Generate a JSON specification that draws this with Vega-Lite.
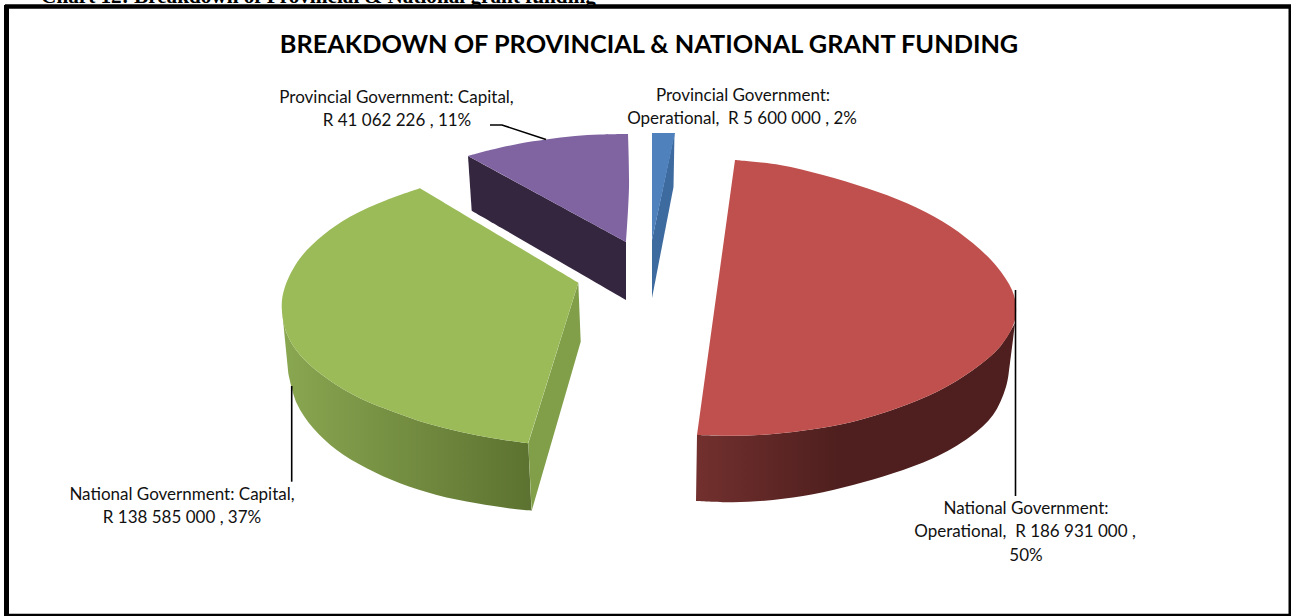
{
  "$schema": "https://vega.github.io/schema/vega-lite/v6.json",
  "width": 1291,
  "height": 616,
  "padding": 0,
  "autosize": {"type": "none"},
  "background": "white",
  "view": {"stroke": null},
  "datasets": {
    "faces": [
      {"face":"red-wall","i":0,"x":697,"y":435},{"face":"red-wall","i":0.5,"x":697,"y":435},{"face":"red-wall","i":1,"x":733,"y":435.7},{"face":"red-wall","i":2,"x":773,"y":434},{"face":"red-wall","i":3,"x":813,"y":429.3},{"face":"red-wall","i":4,"x":853,"y":421.7},{"face":"red-wall","i":5,"x":897,"y":408.3},{"face":"red-wall","i":6,"x":937,"y":391.7},{"face":"red-wall","i":7,"x":973,"y":370},{"face":"red-wall","i":8,"x":1000,"y":346.7},{"face":"red-wall","i":9,"x":1015,"y":323},{"face":"red-wall","i":9.5,"x":1015,"y":323},{"face":"red-wall","i":10,"x":1010,"y":363},{"face":"red-wall","i":11,"x":1006,"y":386.7},{"face":"red-wall","i":12,"x":993,"y":415},{"face":"red-wall","i":13,"x":970,"y":436.7},{"face":"red-wall","i":14,"x":933,"y":458.3},{"face":"red-wall","i":15,"x":893,"y":473.3},{"face":"red-wall","i":16,"x":853,"y":485},{"face":"red-wall","i":17,"x":813,"y":494.3},{"face":"red-wall","i":18,"x":773,"y":500},{"face":"red-wall","i":19,"x":733,"y":502.3},{"face":"red-wall","i":20,"x":696,"y":501},{"face":"red-wall","i":20.5,"x":696,"y":501},
      {"face":"red-top","i":0,"x":735,"y":160},{"face":"red-top","i":0.5,"x":735,"y":160},{"face":"red-top","i":1,"x":780,"y":165},{"face":"red-top","i":2,"x":823,"y":175},{"face":"red-top","i":3,"x":867,"y":188.3},{"face":"red-top","i":4,"x":907,"y":203.3},{"face":"red-top","i":5,"x":943,"y":221.7},{"face":"red-top","i":6,"x":973,"y":243.3},{"face":"red-top","i":7,"x":997,"y":266.7},{"face":"red-top","i":8,"x":1012,"y":290},{"face":"red-top","i":9,"x":1016,"y":306.7},{"face":"red-top","i":10,"x":1014,"y":323.3},{"face":"red-top","i":11,"x":1000,"y":346.7},{"face":"red-top","i":12,"x":973,"y":370},{"face":"red-top","i":13,"x":937,"y":391.7},{"face":"red-top","i":14,"x":897,"y":408.3},{"face":"red-top","i":15,"x":853,"y":421.7},{"face":"red-top","i":16,"x":813,"y":429.3},{"face":"red-top","i":17,"x":773,"y":434},{"face":"red-top","i":18,"x":733,"y":435.7},{"face":"red-top","i":19,"x":697,"y":435},{"face":"red-top","i":19.5,"x":697,"y":435},
      {"face":"green-side","i":0,"x":578.3,"y":282.7},{"face":"green-side","i":1,"x":580.7,"y":341.7},{"face":"green-side","i":2,"x":531.7,"y":510.7},{"face":"green-side","i":3,"x":528.3,"y":443.3},
      {"face":"green-wall","i":0,"x":281.7,"y":306.7},{"face":"green-wall","i":0.5,"x":281.7,"y":306.7},{"face":"green-wall","i":1,"x":286.7,"y":333.3},{"face":"green-wall","i":2,"x":300,"y":355},{"face":"green-wall","i":3,"x":326.7,"y":378.3},{"face":"green-wall","i":4,"x":360,"y":398.3},{"face":"green-wall","i":5,"x":393.3,"y":411.7},{"face":"green-wall","i":6,"x":426.7,"y":423.3},{"face":"green-wall","i":7,"x":460,"y":431.7},{"face":"green-wall","i":8,"x":493.3,"y":438.3},{"face":"green-wall","i":9,"x":528.3,"y":443.3},{"face":"green-wall","i":9.5,"x":528.3,"y":443.3},{"face":"green-wall","i":10,"x":531.7,"y":510.7},{"face":"green-wall","i":10.5,"x":531.7,"y":510.7},{"face":"green-wall","i":11,"x":516.7,"y":509.3},{"face":"green-wall","i":12,"x":476.7,"y":503.3},{"face":"green-wall","i":13,"x":436.7,"y":495},{"face":"green-wall","i":14,"x":400,"y":483.3},{"face":"green-wall","i":15,"x":366.7,"y":468.3},{"face":"green-wall","i":16,"x":336.7,"y":450},{"face":"green-wall","i":17,"x":313.3,"y":428.3},{"face":"green-wall","i":18,"x":296.7,"y":403.3},{"face":"green-wall","i":19,"x":288.3,"y":373.3},{"face":"green-wall","i":19.5,"x":288.3,"y":373.3},
      {"face":"green-top","i":0,"x":420,"y":188.3},{"face":"green-top","i":0.5,"x":420,"y":188.3},{"face":"green-top","i":1,"x":578.3,"y":282.7},{"face":"green-top","i":1.5,"x":578.3,"y":282.7},{"face":"green-top","i":2,"x":528.3,"y":443.3},{"face":"green-top","i":2.5,"x":528.3,"y":443.3},{"face":"green-top","i":3,"x":493.3,"y":438.3},{"face":"green-top","i":4,"x":460,"y":431.7},{"face":"green-top","i":5,"x":426.7,"y":423.3},{"face":"green-top","i":6,"x":393.3,"y":411.7},{"face":"green-top","i":7,"x":360,"y":398.3},{"face":"green-top","i":8,"x":326.7,"y":378.3},{"face":"green-top","i":9,"x":300,"y":355},{"face":"green-top","i":10,"x":286.7,"y":333.3},{"face":"green-top","i":11,"x":281.7,"y":306.7},{"face":"green-top","i":12,"x":285,"y":286.7},{"face":"green-top","i":13,"x":300,"y":258.3},{"face":"green-top","i":14,"x":323.3,"y":235},{"face":"green-top","i":15,"x":350,"y":216.7},{"face":"green-top","i":16,"x":386.7,"y":200},{"face":"green-top","i":17,"x":420,"y":188.3},{"face":"green-top","i":17.5,"x":420,"y":188.3},
      {"face":"purple-wall","i":0,"x":468,"y":156},{"face":"purple-wall","i":0.5,"x":468,"y":156},{"face":"purple-wall","i":1,"x":626,"y":242},{"face":"purple-wall","i":1.5,"x":626,"y":242},{"face":"purple-wall","i":2,"x":626,"y":300},{"face":"purple-wall","i":2.5,"x":626,"y":300},{"face":"purple-wall","i":3,"x":471.7,"y":210.7},{"face":"purple-wall","i":3.5,"x":471.7,"y":210.7},
      {"face":"purple-top","i":0,"x":468,"y":156},{"face":"purple-top","i":0.5,"x":468,"y":156},{"face":"purple-top","i":1,"x":490,"y":150},{"face":"purple-top","i":2,"x":520,"y":143.5},{"face":"purple-top","i":3,"x":546,"y":139.5},{"face":"purple-top","i":4,"x":575,"y":136},{"face":"purple-top","i":5,"x":600,"y":134.5},{"face":"purple-top","i":6,"x":628,"y":134},{"face":"purple-top","i":6.5,"x":628,"y":134},{"face":"purple-top","i":7,"x":629,"y":187},{"face":"purple-top","i":8,"x":626,"y":242},{"face":"purple-top","i":8.5,"x":626,"y":242},
      {"face":"blue-wall","i":0,"x":674.5,"y":133},{"face":"blue-wall","i":0.5,"x":674.5,"y":133},{"face":"blue-wall","i":1,"x":673.5,"y":187},{"face":"blue-wall","i":1.5,"x":673.5,"y":187},{"face":"blue-wall","i":2,"x":652,"y":298},{"face":"blue-wall","i":2.5,"x":652,"y":298},{"face":"blue-wall","i":3,"x":652,"y":240},{"face":"blue-wall","i":3.5,"x":652,"y":240},
      {"face":"blue-top","i":0,"x":652,"y":133},{"face":"blue-top","i":0.5,"x":652,"y":133},{"face":"blue-top","i":1,"x":675,"y":133},{"face":"blue-top","i":1.5,"x":675,"y":133},{"face":"blue-top","i":2,"x":652,"y":240},{"face":"blue-top","i":2.5,"x":652,"y":240}
    ],
    "leaders": [
      {"slice":"National Government: Operational","i":0,"x":1015.5,"y":290},{"slice":"National Government: Operational","i":1,"x":1015.5,"y":496},
      {"slice":"National Government: Capital","i":0,"x":291.7,"y":386},{"slice":"National Government: Capital","i":1,"x":291.7,"y":481.7},
      {"slice":"Provincial Government: Capital","i":0,"x":490,"y":125},{"slice":"Provincial Government: Capital","i":1,"x":502,"y":125},{"slice":"Provincial Government: Capital","i":2,"x":546,"y":139.5}
    ],
    "labels": [
      {"x":396.5,"y":98,"text":"Provincial Government: Capital,"},
      {"x":397,"y":121,"text":"R 41 062 226 , 11%"},
      {"x":743,"y":96,"text":"Provincial Government:"},
      {"x":742,"y":118.5,"text":"Operational, \u00a0R 5 600 000 , 2%"},
      {"x":182,"y":495,"text":"National Government: Capital,"},
      {"x":182,"y":518,"text":"R 138 585 000 , 37%"},
      {"x":1026,"y":509,"text":"National Government:"},
      {"x":1025,"y":532,"text":"Operational, \u00a0R 186 931 000 ,"},
      {"x":1026,"y":556,"text":"50%"}
    ],
    "frame": [
      {"side":"left","x":6.5,"x2":6.5,"y":5,"y2":616},
      {"side":"top","x":5,"x2":1291,"y":6.5,"y2":6.5},
      {"side":"bottom","x":5,"x2":1291,"y":615.5,"y2":615.5},
      {"side":"right","x":1290,"x2":1290,"y":5,"y2":616}
    ]
  },
  "data": {"name": "faces"},
  "encoding": {
    "x": {"field": "x", "type": "quantitative", "scale": {"domain": [0, 1291]}, "axis": null},
    "y": {"field": "y", "type": "quantitative", "scale": {"domain": [616, 0]}, "axis": null},
    "order": {"field": "i", "type": "quantitative"}
  },
  "layer": [
    {
      "data": {"values": [{"x": 318.5, "y": 3, "text": "Chart 12: Breakdown of Provincial & National grant funding"}]},
      "mark": {"type": "text", "font": "Liberation Serif", "fontWeight": "bold", "fontSize": 21.2, "align": "center", "baseline": "alphabetic", "color": "black"},
      "encoding": {"text": {"field": "text"}, "order": {"value": null}}
    },
    {
      "data": {"name": "frame"},
      "mark": {"type": "rule", "color": "black"},
      "encoding": {
        "x2": {"field": "x2"},
        "y2": {"field": "y2"},
        "order": {"value": null},
        "strokeWidth": {"field": "side", "type": "nominal", "scale": {"domain": ["left", "top", "bottom", "right"], "range": [5, 3, 1.5, 1.5]}, "legend": null}
      }
    },
    {
      "transform": [{"filter": "datum.face === 'red-wall'"}],
      "mark": {"type": "line", "interpolate": "catmull-rom", "strokeWidth": 0, "fill": {"gradient": "linear", "x1": 0, "x2": 1, "y1": 0, "y2": 0, "stops": [{"offset": 0, "color": "#72302e"}, {"offset": 0.45, "color": "#4e1f1e"}, {"offset": 1, "color": "#4e1f1e"}]}}
    },
    {
      "transform": [{"filter": "datum.face === 'red-top'"}],
      "mark": {"type": "line", "interpolate": "catmull-rom", "strokeWidth": 0, "fill": "#c0504d"}
    },
    {
      "transform": [{"filter": "datum.face === 'green-wall'"}],
      "mark": {"type": "line", "interpolate": "catmull-rom", "strokeWidth": 0, "fill": {"gradient": "linear", "x1": 0, "x2": 1, "y1": 0, "y2": 0, "stops": [{"offset": 0, "color": "#8aa751"}, {"offset": 1, "color": "#5c7230"}]}}
    },
    {
      "transform": [{"filter": "datum.face === 'green-side'"}],
      "mark": {"type": "line", "strokeWidth": 0, "fill": "#809f48"}
    },
    {
      "transform": [{"filter": "datum.face === 'green-top'"}],
      "mark": {"type": "line", "interpolate": "catmull-rom", "strokeWidth": 0, "fill": "#9bbb59"}
    },
    {
      "transform": [{"filter": "datum.face === 'purple-wall'"}],
      "mark": {"type": "line", "interpolate": "catmull-rom", "strokeWidth": 0, "fill": "#352640"}
    },
    {
      "transform": [{"filter": "datum.face === 'purple-top'"}],
      "mark": {"type": "line", "interpolate": "catmull-rom", "strokeWidth": 0, "fill": "#8064a2"}
    },
    {
      "transform": [{"filter": "datum.face === 'blue-wall'"}],
      "mark": {"type": "line", "interpolate": "catmull-rom", "strokeWidth": 0, "fill": "#3e6b9f"}
    },
    {
      "transform": [{"filter": "datum.face === 'blue-top'"}],
      "mark": {"type": "line", "interpolate": "catmull-rom", "strokeWidth": 0, "fill": "#4f81bd"}
    },
    {
      "data": {"name": "leaders"},
      "mark": {"type": "line", "color": "black", "strokeWidth": 1.6},
      "encoding": {"detail": {"field": "slice"}}
    },
    {
      "data": {"name": "labels"},
      "mark": {"type": "text", "font": "Lato", "fontSize": 17, "align": "center", "baseline": "middle", "color": "#111111"},
      "encoding": {"text": {"field": "text"}, "order": {"value": null}}
    },
    {
      "data": {"values": [{"x": 649, "y": 45, "text": "BREAKDOWN OF PROVINCIAL & NATIONAL GRANT FUNDING"}]},
      "mark": {"type": "text", "font": "Lato", "fontWeight": "bold", "fontSize": 25.3, "align": "center", "baseline": "middle", "color": "black"},
      "encoding": {"text": {"field": "text"}, "order": {"value": null}}
    }
  ]
}
